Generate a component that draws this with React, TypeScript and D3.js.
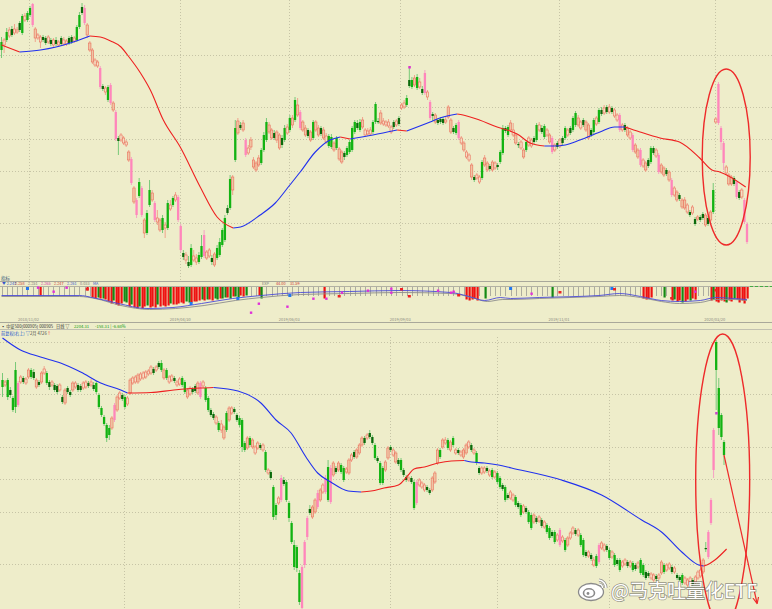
import React from 'react';
import * as d3 from 'd3';

type OHLC = [number, number, number, number]; // open, high, low, close

// ---------- top panel candles (value units) ----------
const topCandles: OHLC[] = [
  [250,263,242,258],[260,262,247,255],[260,272,258,268],[270,273,262,264],[265,274,263,271],
  [271,276,265,267],[270,273,266,268],[270,279,268,277],[267,286,265,284],[284,287,278,280],
  [280,289,278,287],[285,294,283,292],[296,297,273,275],[271,273,258,262],[265,267,260,262],
  [263,265,252,258],[260,265,258,263],[257,264,255,262],[263,265,256,258],[256,262,254,260],
  [260,262,253,255],[256,263,254,260],[258,260,253,255],[256,264,254,262],[260,263,254,256],
  [259,261,254,256],[257,264,255,262],[258,265,256,263],[262,264,257,259],[260,275,258,273],
  [273,288,271,285],[287,297,285,293],[292,295,275,277],[275,277,262,265],[257,259,248,250],
  [250,252,236,238],[240,242,233,235],[238,240,232,234],[232,234,211,213],[211,216,209,214],
  [212,214,205,208],[200,215,198,213],[215,217,195,197],[197,199,188,190],[188,190,159,161],
  [159,164,145,162],[165,167,158,160],[162,164,155,157],[158,160,153,155],[148,150,138,140],
  [141,143,115,117],[112,114,96,98],[100,102,82,85],[104,122,102,118],[112,114,83,85],
  [80,82,62,67],[67,90,65,87],[95,120,93,110],[107,110,98,100],[97,99,78,80],
  [82,90,75,78],[80,82,68,70],[70,85,67,82],[75,78,62,72],[72,100,70,97],
  [95,100,89,91],[95,104,93,102],[105,108,98,100],[103,105,78,80],[74,76,48,50],
  [43,50,40,47],[45,48,36,40],[34,44,32,38],[35,56,33,52],[44,50,38,40],
  [42,46,35,38],[38,48,36,45],[43,65,41,54],[65,70,42,44],[48,50,40,42],
  [50,52,42,44],[38,45,35,42],[46,48,33,35],[42,55,40,52],[45,62,43,58],
  [55,72,53,70],[60,85,58,82],[87,95,85,92],[92,125,90,121],[123,125,105,110],
  [140,180,138,172],[179,182,165,167],[172,178,170,175],[177,180,168,170],[160,162,143,145],
  [152,155,145,147],[160,163,150,153],[140,143,131,133],[137,139,128,130],[142,145,133,135],
  [137,152,135,150],[150,168,148,165],[160,182,158,178],[175,178,166,168],[170,172,160,162],
  [162,170,160,167],[168,170,157,160],[165,167,150,152],[155,165,152,162],[160,175,158,172],
  [173,176,165,167],[170,185,168,182],[182,185,172,175],[180,203,178,200],[195,202,183,185],
  [188,190,170,172],[178,180,168,170],[172,175,163,165],[164,172,162,170],[168,170,158,160],
  [162,180,160,178],[178,180,168,170],[172,175,163,165],[166,174,164,172],[170,173,160,162],
  [164,167,156,158],[154,166,152,164],[153,166,151,163],[157,159,148,150],[152,164,150,162],
  [151,153,139,141],[148,150,136,138],[143,149,140,147],[145,154,143,152],[148,160,146,158],
  [150,174,148,172],[168,180,166,178],[172,180,170,177],[170,181,168,178],[180,183,171,173],
  [170,172,163,165],[169,172,164,166],[170,173,165,166],[168,180,166,178],[178,198,176,196],
  [178,182,176,179],[187,190,175,177],[179,182,174,176],[178,180,173,175],[178,181,172,174],
  [173,175,166,168],[173,180,171,178],[179,181,173,175],[176,184,174,182],[195,197,190,192],
  [197,200,191,193],[195,205,193,202],[214,233,212,220],[213,223,211,220],[222,225,213,215],
  [212,226,210,223],[218,222,211,213],[207,214,205,211],[227,230,205,207],[208,210,200,203],
  [198,200,180,182],[184,188,179,186],[185,187,176,178],[177,182,175,180],[178,183,176,181],
  [177,183,175,181],[180,184,176,178],[193,195,181,183],[180,182,166,168],[168,174,166,172],
  [167,177,165,175],[178,180,160,162],[162,164,155,157],[157,159,148,150],[148,150,141,143],
  [145,147,138,140],[135,137,120,123],[120,125,118,123],[125,127,120,122],[123,125,116,118],
  [122,140,120,138],[142,145,133,135],[137,139,128,130],[131,136,129,134],[138,140,128,130],
  [137,139,130,132],[133,137,130,135],[138,150,136,148],[147,175,145,172],[169,174,167,172],
  [165,175,163,173],[177,180,168,170],[170,177,163,165],[165,167,155,157],[155,158,152,156],
  [158,160,150,152],[150,152,141,143],[150,160,148,158],
  [162,164,153,155],[160,162,152,154],[158,164,156,162],[160,177,158,175],[175,178,168,170],
  [168,175,166,172],[163,176,161,174],[170,172,163,165],[165,167,156,158],[162,164,146,148],
  [155,157,148,150],[153,159,151,157],[160,162,152,154],[157,164,155,162],[162,174,160,172],
  [170,172,163,165],[167,174,165,172],[170,184,168,182],[175,189,173,187],[182,185,173,175],
  [178,180,170,172],[175,182,173,180],[178,180,168,170],[175,177,160,162],[165,172,163,170],
  [168,182,166,180],[182,184,174,176],[178,192,176,190],[186,193,184,190],[192,195,185,187],
  [188,195,186,193],[193,196,186,188],[188,194,186,192],[190,192,182,184],[185,187,178,180],
  [185,187,168,170],[175,177,168,170],[170,177,168,175],[172,174,163,165],[168,170,160,162],
  [165,167,148,150],[155,157,146,148],[150,152,141,143],[150,152,133,135],[140,142,132,134],
  [137,139,128,130],[134,142,132,140],[138,154,136,152],[147,154,145,152],[150,152,142,144],
  [145,147,126,128],[135,137,126,128],[132,134,123,125],[126,132,124,130],[128,130,118,120],
  [120,122,103,105],[112,114,103,105],[108,110,98,100],[101,107,99,105],
  [100,102,91,93],[100,103,90,92],[95,97,86,88],[85,90,83,88],[93,95,85,87],
  [76,83,74,81],[83,85,79,81],[80,85,78,83],[82,88,80,86],[85,87,73,75],
  [76,84,74,82],[88,90,78,80],[88,117,86,110],[181,183,176,178],[216,218,175,177],
  [172,174,150,158],[157,159,130,137],[133,135,125,127],[125,127,114,116],[123,125,114,116],
  [116,124,114,122],[118,120,101,103],[102,110,100,108],[110,112,101,103],[100,102,76,78],
  [76,78,56,58],
];

// ---------- bottom panel candles (value units) ----------
const bottomCandles: OHLC[] = [
  [260,267,243,253],[255,260,253,258],[260,262,240,243],[250,253,242,245],[242,244,228,230],
  [270,278,227,233],[235,259,233,257],[258,265,256,263],[262,264,256,258],[257,263,255,261],
  [263,272,261,270],[270,272,261,263],[268,271,260,262],[253,262,251,260],[258,260,253,255],
  [258,269,256,267],[267,274,265,271],[267,269,255,257],[258,260,250,253],[255,260,253,258],
  [255,257,248,250],[254,256,246,248],[250,257,248,255],[243,245,236,238],[237,252,235,250],
  [252,254,246,248],[248,250,243,245],[250,259,248,257],[253,259,251,257],[255,257,248,250],
  [254,256,248,250],[252,259,250,257],[253,260,251,258],[257,259,252,254],[255,261,253,258],
  [255,258,249,251],[257,259,246,248],[245,247,231,233],[232,234,223,225],[223,225,214,216],
  [215,217,198,202],[212,215,200,205],[212,224,210,222],[220,237,218,235],[230,245,228,243],
  [242,249,240,247],[245,247,239,241],[243,245,231,233],[236,244,234,242],[247,262,245,260],
  [257,264,255,262],[258,265,256,263],[258,267,256,265],[261,268,259,266],[262,269,260,267],
  [263,270,261,268],[266,271,264,269],[267,275,265,273],[271,273,265,267],[270,275,268,273],
  [277,279,271,273],[277,280,268,270],[262,272,260,270],[270,272,260,262],[258,265,256,263],
  [260,266,258,264],[262,264,257,259],[255,260,253,258],[256,263,254,261],[262,264,253,255],
  [258,260,246,248],[243,252,241,250],[246,254,244,252],[251,253,246,248],[254,256,247,249],
  [247,259,245,257],[243,259,241,257],[254,260,252,258],[252,254,238,240],[242,244,228,230],
  [230,232,223,225],[226,228,220,222],[217,225,215,223],[217,219,208,210],[210,220,207,216],
  [202,215,200,213],[227,229,208,210],[220,234,218,232],[227,234,225,232],[231,233,226,228],
  [225,227,218,220],[222,224,213,215],[220,222,188,193],[197,199,188,190],[192,204,190,202],
  [202,204,193,195],[193,202,191,200],[187,195,185,193],[192,199,190,197],[195,197,190,192],
  [190,197,188,195],[188,190,168,170],[167,172,165,170],[168,170,160,162],[153,155,120,123],
  [135,137,120,125],[137,144,135,142],[140,165,138,162],[160,163,154,156],[158,160,138,140],
  [137,139,118,122],[117,119,96,98],[95,100,70,73],[93,95,68,72],[67,70,35,38],
  [32,75,31,73],[75,100,72,98],[103,124,100,122],[131,135,125,127],[123,135,121,133],
  [128,142,126,140],[133,150,131,147],[140,152,138,150],[148,157,146,155],[148,165,146,162],
  [173,180,138,140],[138,175,136,172],[165,179,163,177],[172,174,166,168],[170,179,168,177],
  [175,177,166,168],[172,174,158,160],[168,173,166,171],[167,182,165,180],[180,187,178,185],
  [188,190,181,183],[183,192,181,190],[187,197,185,195],[195,204,193,202],[202,204,195,197],
  [202,207,200,205],[207,210,201,203],[203,205,195,197],[195,197,180,182],[182,184,177,179],
  [177,179,155,157],[172,174,155,157],[170,180,168,178],[182,194,180,192],[193,195,188,190],
  [185,192,183,190],[178,189,176,187],[180,182,174,176],[180,182,168,170],[170,172,163,165],
  [163,165,158,160],[160,164,158,162],[162,164,156,158],[158,160,130,132],[137,160,135,158],
  [155,162,153,160],[153,159,151,157],[150,157,148,155],[153,155,148,150],[150,152,145,147],
  [150,164,148,162],[158,169,156,167],[177,192,175,190],[190,192,181,183],[193,202,191,200],
  [197,203,195,200],[200,202,190,192],[190,200,188,198],[202,204,193,195],[187,192,185,190],
  [190,192,185,187],[185,190,183,188],[183,192,181,190],[187,197,185,195],[193,200,191,198],
  [195,197,188,190],[187,192,185,190],[187,189,175,177],[172,174,165,167],[167,174,165,172],
  [168,174,166,172],[172,174,167,169],[165,171,163,169],[170,172,161,163],[163,170,161,168],
  [167,169,156,158],[162,164,151,153],[155,157,149,151],[153,155,138,140],[145,147,140,142],
  [142,150,140,148],
  [140,147,138,145],[143,145,133,135],[137,139,131,133],[135,137,123,125],[128,136,126,134],
  [132,134,126,128],[128,130,116,118],[125,127,110,112],[118,127,116,125],[122,124,116,118],
  [119,125,117,123],[120,122,112,114],[113,120,111,118],[115,117,106,108],[112,114,100,102],
  [108,110,102,104],[108,110,96,98],[100,107,98,105],[95,112,93,110],[99,105,97,103],
  [100,102,88,90],[95,104,93,102],[102,109,100,107],[107,114,105,112],[110,112,104,106],
  [105,112,103,110],[105,107,93,95],[100,102,83,85],[88,90,82,84],[84,90,82,88],
  [85,87,79,81],[75,83,73,80],[84,86,72,74],[78,97,76,95],[92,99,90,97],
  [90,97,88,95],[94,96,88,90],[90,92,80,82],[83,90,81,88],[85,87,73,75],
  [80,82,74,76],[80,82,68,70],[74,80,72,78],[76,82,74,80],[78,80,72,74],
  [74,80,72,78],[77,79,68,70],[75,77,69,71],[73,79,71,77],[80,82,65,67],
  [75,77,63,65],[68,70,60,62],[67,69,62,64],[62,68,60,66],[60,67,58,65],
  [64,66,59,61],[62,67,60,65],[67,80,65,78],[75,77,66,68],[70,77,68,75],
  [72,78,70,76],[73,75,66,68],[68,74,66,72],[65,67,60,62],[63,65,58,60],
  [65,67,55,57],[57,64,55,62],[55,62,53,60],[58,64,56,62],[60,62,54,56],
  [58,65,56,63],[62,70,60,68],[64,72,62,70],[68,82,66,80],[92,98,88,91],
  [83,110,81,108],[117,142,115,140],[170,212,162,210],[298,300,230,270],[252,262,205,212],
  [225,227,200,203],[198,200,175,185],
];

// ---------- moving averages [candle index, value] ----------
const topMA: [number, number][] = [
  [0,255],[7,248],[15,250],[21,253],[26.5,257],[34,264],[38,263],[42,259],[46,253],[48.5,245],
  [53.5,227],[57.3,210],[62.3,180],[68.8,153],[76.5,113],[83,83],[89.2,72],[92,73],[99.6,85],
  [105.4,97],[111,115],[115,128],[120.8,148],[126.5,160],[130.4,163],[134.2,161],[143,165],
  [152.3,170],[156,169],[165,178],[168.8,182],[175.4,186],[177.7,185],[184,180],[190.8,173],
  [195.8,169],[198.5,166],[203.5,157],[209,154],[213,154],[217,155],[222.7,160],[230.4,168],
  [236,173],[240,173],[245.8,168],[253.5,162],[261,158],[268.8,142],[273.5,130],[276.5,128],[286.5,113],
];
const bottomMA: [number, number][] = [
  [0,302],[6.9,290],[14.6,283],[22.3,277],[30,268],[37.7,257],[45.4,250],[48,247],[57,247.5],
  [65.8,250],[76,252],[81,252.5],[90.4,249],[99.2,237],[105,220],[110.8,207],[116.5,183],
  [121,167],[126,158],[132.7,149],[137.7,148],[141.5,149],[146.5,152],[152,155],[155.8,165],
  [158,171],[162,173],[167.3,177],[172.3,179],[177.3,179.5],[180,178],[185,177],[190.4,175],
  [195.4,172],[214.6,160],[230,145],[245.4,120],[253,108],[260.8,88],[267.3,75],[269.2,74],
  [270.4,75],[273.5,80],[278,91],
];

// ---------- grids & dates ----------
const topGridValues = [245, 193, 161, 129, 77];
const bottomGridValues = [298, 246, 193, 161, 128, 76];
const topDateIdx = [10.4, 68.8, 110.8, 153.5, 214.6, 274.6];
const topDateLabels = ['2018/11/02', '2019/04/30', '2019/06/03', '2019/09/03', '2019/11/01', '2020/03/20'];
const bottomGridIdx = [46.5, 90.8, 148.8, 190, 233];

// ---------- indicator strip ----------
const stripHist: [number, number][] = [
  [15,9],[33,4],
  [35,11],[36,12],[37,-11],[38,12],[39,-12],[40,13],[41,15],[42,17],[43,-14],[44,18],[45,19],[46,17],
  [47,-15],[48,-16],[49,20],[50,-18],[51,21],[52,22],[53,-20],[54,22],[55,20],[56,-19],[57,21],[58,20],
  [59,21],[60,-18],[61,20],[62,19],[63,20],[64,19],[65,-17],[66,18],[67,18],[68,17],[69,16],[70,17],
  [71,-15],[72,-16],[73,16],[74,15],[75,15],[76,14],[77,-13],[78,14],[79,-13],[80,13],[81,14],[82,-12],
  [83,-13],[84,12],[85,-12],[86,-11],[87,11],[88,-12],[89,10],[90,-10],[91,-11],[92,9],[93,10],[94,-9],
  [99,9],[100,-12],[124,12],[179,13],[180,14],[181,13],[182,12],[183,14],[186,-12],[212,-11],
  [247,12],[248,13],[249,12],[250,11],[255,-11],
  [258,14],[259,-13],[260,15],[261,14],[262,-16],[263,15],[264,13],[265,-14],[266,12],[267,13],
  [273,14],[274,-13],[275,15],[276,16],[277,14],[278,15],[279,-16],[280,14],[281,15],[282,-12],
  [283,13],[284,16],[285,14],[286,17],[287,12],
];
const stripLine: [number, number][] = [
  [0,9],[30,9],[35,11],[45,17],[56,22],[66,21],[77,17],[89,12],[100,9],[115,6],[134,5],[153,4],
  [173,6],[180,10],[186,14],[192,11],[196,12],[207,11],[230,9],[238,7],[246,10],[254,14],[261,15],
  [269,14],[275,11],[282,12],[287,13],
];
const stripSignal: [number, number][] = [
  [0,10],[30,10],[36,12],[46,19],[57,23],[67,22],[78,19],[90,14],[100,11],[115,8],[134,7],[153,6],
  [173,7],[181,11],[187,15],[193,13],[197,13],[207,12],[230,10],[238,9],[246,11],[254,15],[261,17],
  [269,16],[275,13],[282,13],[287,14],
];
const stripMagenta: [number, number][] = [
  [14,1],[20,5],[25,1],[96,26],[99,17],[110,20],[120,12],[125,12],[131,6],[141,4],[150,2],[150,6],
  [168,4],[173,6],[174,5],[204,7],[267,5],
];
const stripBlue: [number, number][] = [[10,2],[73,17],[91,12],[111,9],[196,2],[235,2]];
const stripRed: [number, number][] = [[33,3],[130,10],[154,3],[157,10],[176,9],[215,6],[236,3],[258,12],[275,4]];
const stripLabels = ['▼ 2.243', '2.258', '2.251', '2.265', '2.247', '2.261', '0.033', 'MA'];
const stripLabels2 = ['EXP', '44.00', '31.59'];

const topMarks: [number, number][] = [[157, 233]];
const bottomMarks: [number, number][] = [[274, 227]];

// ---------- colours ----------
const BG = '#eeedca';
const GRID = '#c6c4a6';
const GREEN = '#12b312';
const DKGREEN = '#0b6a0b';
const GREEN_WICK = '#78c978';
const PINK = '#ff86bb';
const BEIGE = '#efc6a4';
const SALMON = '#eb6b58';
const HOLLOW = '#f4e0c4';
const SALMON_WICK = '#f0a38d';
const MA_RED = '#ee2020';
const MA_BLUE = '#2030ee';
const ANNOT = '#ee2a2a';

type Scale = d3.ScaleLinear<number, number>;

function Candles({ data, x, y, invert }: { data: OHLC[]; x: Scale; y: Scale; invert: boolean }) {
  return (
    <g>
      {data.map(([o, h, l, c], i) => {
        const cx = x(i);
        const rise = c > o;
        const green = invert ? !rise : rise;
        const yTop = y(Math.max(o, c));
        const yBot = y(Math.min(o, c));
        const bh = Math.max(1.2, yBot - yTop);
        let fill: string, stroke: string, wick: string;
        if (green) {
          fill = bh >= 7 ? GREEN : DKGREEN;
          stroke = fill;
          wick = GREEN_WICK;
        } else if (bh >= 14) {
          fill = PINK; stroke = PINK; wick = '#f7a0c4';
        } else if (bh >= 7) {
          fill = BEIGE; stroke = SALMON; wick = SALMON_WICK;
        } else {
          fill = HOLLOW; stroke = SALMON; wick = SALMON_WICK;
        }
        return (
          <g key={i}>
            <line x1={cx} x2={cx} y1={y(h)} y2={y(l)} stroke={wick} strokeWidth={1} />
            <rect x={cx - 1.15} y={yTop} width={2.3} height={bh} fill={fill}
              stroke={stroke} strokeWidth={green || fill === PINK ? 0 : 0.6} />
          </g>
        );
      })}
    </g>
  );
}

function maRuns(pts: [number, number][], upColor: string, downColor: string) {
  const runs: { color: string; pts: [number, number][] }[] = [];
  for (let k = 0; k < pts.length - 1; k++) {
    const col = pts[k + 1][1] >= pts[k][1] ? upColor : downColor;
    const last = runs[runs.length - 1];
    if (last && last.color === col) last.pts.push(pts[k + 1]);
    else runs.push({ color: col, pts: [pts[k], pts[k + 1]] });
  }
  return runs;
}

function MALine({ pts, x, y, up, down }: { pts: [number, number][]; x: Scale; y: Scale; up: string; down: string }) {
  const line = d3.line<[number, number]>().x(d => x(d[0])).y(d => y(d[1])).curve(d3.curveMonotoneX);
  return (
    <g>
      {maRuns(pts, up, down).map((r, k) => (
        <path key={k} d={line(r.pts) || ''} fill="none" stroke={r.color} strokeWidth={1.1} />
      ))}
    </g>
  );
}

export default function App() {
  const W = 772, H = 609;
  const xTop = d3.scaleLinear().domain([0, topCandles.length - 1]).range([1.5, 747]);
  const yTop = d3.scaleLinear().domain([20, 300]).range([280, 0]);
  const xBot = d3.scaleLinear().domain([0, bottomCandles.length - 1]).range([2.5, 724]);
  const yBot = d3.scaleLinear().domain([31, 303]).range([609, 337]);
  const yStrip = d3.scaleLinear().domain([0, 30]).range([286.5, 316.5]);

  const histSet = new Set(stripHist.map(d => d[0]));
  const stripLineGen = d3.line<[number, number]>().x(d => xTop(d[0])).y(d => yStrip(d[1])).curve(d3.curveMonotoneX);

  const cjk = '"Noto Sans CJK SC", "Noto Sans", sans-serif';

  return (
    <svg width={W} height={H} viewBox={`0 0 ${W} ${H}`}
      style={{ position: 'absolute', left: 0, top: 0, display: 'block' }}
      fontFamily={cjk}>
      <defs>
        <clipPath id="topClip"><rect x={0} y={0} width={W} height={281} /></clipPath>
        <clipPath id="botClip"><rect x={0} y={337} width={W} height={H - 337} /></clipPath>
        <marker id="arrow" viewBox="0 0 10 10" refX="8" refY="5" markerWidth="6" markerHeight="6" orient="auto">
          <path d="M0,1 L9,5 L0,9" fill="none" stroke={ANNOT} strokeWidth={1.6} />
        </marker>
      </defs>
      <rect x={0} y={0} width={W} height={H} fill={BG} />

      {/* ---------- top panel ---------- */}
      <g clipPath="url(#topClip)">
        {topGridValues.map((v, k) => (
          <line key={'tg' + k} x1={0} x2={W} y1={Math.round(yTop(v)) + 0.5} y2={Math.round(yTop(v)) + 0.5}
            stroke={GRID} strokeDasharray="1,2" />
        ))}
        {topDateIdx.map((d, k) => (
          <line key={'tv' + k} x1={Math.round(xTop(d)) + 0.5} x2={Math.round(xTop(d)) + 0.5} y1={0} y2={281}
            stroke={GRID} strokeDasharray="1,2" />
        ))}
        <Candles data={topCandles} x={xTop} y={yTop} invert={false} />
        <MALine pts={topMA} x={xTop} y={yTop} up={MA_BLUE} down={MA_RED} />
        {topMarks.map((m, k) => (
          <rect key={'tm' + k} x={xTop(m[0]) - 1} y={yTop(m[1]) - 1} width={2.5} height={2.5} fill="#dd33cc" />
        ))}
      </g>

      {/* ---------- indicator strip ---------- */}
      <text x={1} y={279.5} fontSize={4.5} fill="#335577">指标</text>
      <line x1={0} x2={W} y1={281.5} y2={281.5} stroke="#a9a89a" strokeWidth={1} />
      {stripLabels.map((t, k) => (
        <text key={'sl' + k} x={2 + k * 13} y={285.3} fontSize={3.8}
          fill={['#3355cc', '#cc3333', '#777777', '#cc33aa', '#cc3333', '#3355cc', '#777777', '#3355cc'][k % 8]}>{t}</text>
      ))}
      {stripLabels2.map((t, k) => (
        <text key={'sl2' + k} x={262 + k * 14} y={285.3} fontSize={3.8} fill={k === 0 ? '#777' : '#cc3333'}>{t}</text>
      ))}
      <line x1={0} x2={W} y1={286.5} y2={286.5} stroke="#b3b2a3" strokeWidth={1} />
      <line x1={750} x2={W} y1={286.5} y2={286.5} stroke="#44aa44" strokeDasharray="3,2" />
      {d3.range(0, topCandles.length, 2).filter(i => !histSet.has(i)).map(i => (
        <line key={'tk' + i} x1={Math.round(xTop(i)) + 0.5} x2={Math.round(xTop(i)) + 0.5}
          y1={287} y2={296} stroke="#9b9b94" strokeWidth={0.8} />
      ))}
      {stripHist.map(([i, v], k) => (
        <rect key={'sh' + k} x={Math.round(xTop(i)) - 0.5} y={287} width={2.2} height={yStrip(Math.abs(v)) - 287}
          fill={v > 0 ? '#ee1111' : '#158a15'} />
      ))}
      <path d={stripLineGen(stripSignal) || ''} fill="none" stroke="#8c8c8c" strokeWidth={0.9} />
      <path d={stripLineGen(stripLine) || ''} fill="none" stroke="#4b4bd8" strokeWidth={0.9} />
      {stripMagenta.map(([i, d], k) => (
        <rect key={'sm' + k} x={xTop(i) - 1} y={yStrip(d) - 1} width={2.4} height={2.4} fill="#e030d8" />
      ))}
      {stripBlue.map(([i, d], k) => (
        <rect key={'sb' + k} x={xTop(i) - 1.5} y={yStrip(d) - 1.5} width={3} height={3} fill="#2277ee" />
      ))}
      {stripRed.map(([i, d], k) => (
        <rect key={'sr' + k} x={xTop(i) - 1.5} y={yStrip(d) - 1.5} width={3} height={2.5} fill="#ee2222" />
      ))}
      {topDateIdx.map((d, k) => (
        <text key={'dt' + k} x={xTop(d)} y={321} fontSize={4} fill="#8a8a80" textAnchor="middle">{topDateLabels[k]}</text>
      ))}
      <line x1={0} x2={W} y1={322.5} y2={322.5} stroke="#a9a89a" strokeWidth={1} />
      <text x={1} y={328} fontSize={4.2} fill="#333">▪ 中证500(000905) 000905</text>
      <text x={56} y={328} fontSize={4.2} fill="#333">日线 ▽</text>
      <text x={74} y={328} fontSize={4.2} fill="#119911">2204.31</text>
      <text x={95} y={328} fontSize={4.2} fill="#119911">-158.31 | -6.68%</text>
      <line x1={0} x2={W} y1={329.5} y2={329.5} stroke="#c2c1b0" strokeWidth={1} />
      <text x={1} y={334.5} fontSize={4.2} fill="#2255cc">前复权(右上) ▽</text>
      <text x={30} y={334.5} fontSize={4.2} fill="#444">2月 4726</text>
      <text x={47} y={334.5} fontSize={4.2} fill="#ee2222">↑</text>

      {/* ---------- bottom panel ---------- */}
      <g clipPath="url(#botClip)">
        {bottomGridValues.map((v, k) => (
          <line key={'bg' + k} x1={0} x2={W} y1={Math.round(yBot(v)) + 0.5} y2={Math.round(yBot(v)) + 0.5}
            stroke={GRID} strokeDasharray="1,2" />
        ))}
        {bottomGridIdx.map((d, k) => (
          <line key={'bv' + k} x1={Math.round(xBot(d)) + 0.5} x2={Math.round(xBot(d)) + 0.5} y1={337} y2={H}
            stroke={GRID} strokeDasharray="1,2" />
        ))}
        <Candles data={bottomCandles} x={xBot} y={yBot} invert={true} />
        <MALine pts={bottomMA} x={xBot} y={yBot} up={MA_RED} down={MA_BLUE} />
        {bottomMarks.map((m, k) => (
          <rect key={'bm' + k} x={xBot(m[0]) - 1} y={yBot(m[1]) - 1} width={2.5} height={2.5} fill="#cc44cc" />
        ))}
      </g>

      {/* ---------- annotations ---------- */}
      <ellipse cx={xTop(279)} cy={yTop(143)} rx={24} ry={88} fill="none" stroke={ANNOT} strokeWidth={1.4} />
      <ellipse cx={xBot(276.5)} cy={yBot(160)} rx={27} ry={146} fill="none" stroke={ANNOT} strokeWidth={1.4} />
      <line x1={xBot(277)} y1={yBot(185)} x2={757} y2={603} stroke={ANNOT} strokeWidth={1.2} markerEnd="url(#arrow)" />

      {/* ---------- watermark ---------- */}
      <g>
        <ellipse cx={591} cy={592} rx={12.5} ry={8.5} fill="#ffffff" stroke="#8a8a8a" strokeWidth={1.3} />
        <ellipse cx={589} cy={593} rx={5.5} ry={4.2} fill="none" stroke="#8a8a8a" strokeWidth={1.6} />
        <circle cx={588} cy={593.5} r={1.4} fill="#8a8a8a" />
        <path d="M599,580 A8,8 0 0 1 606,588" fill="none" stroke="#8a8a8a" strokeWidth={3} />
        <path d="M599,580 A8,8 0 0 1 606,588" fill="none" stroke="#ffffff" strokeWidth={1.6} />
        <path d="M599,584 A4,4 0 0 1 602.5,588" fill="none" stroke="#8a8a8a" strokeWidth={2.6} />
        <path d="M599,584 A4,4 0 0 1 602.5,588" fill="none" stroke="#ffffff" strokeWidth={1.3} />
        <text x={611} y={598} fontSize={19} fill="#ffffff" stroke="rgba(70,70,70,0.55)" strokeWidth={1.6}
          style={{ paintOrder: 'stroke' }} fontFamily={cjk}>@马克吐量化ETF</text>
      </g>
    </svg>
  );
}
